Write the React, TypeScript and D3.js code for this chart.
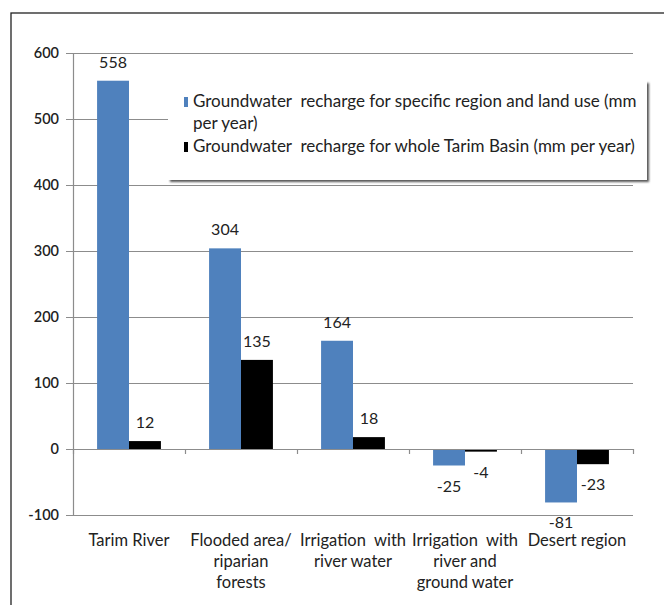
import React from "react";
import * as d3 from "d3";

const categories: string[][] = [
  ["Tarim River"],
  ["Flooded area/", "riparian", "forests"],
  ["Irrigation  with", "river water"],
  ["Irrigation  with", "river and", "ground water"],
  ["Desert region"],
];
const specificRecharge: number[] = [558, 304, 164, -25, -81];
const basinRecharge: number[] = [12, 135, 18, -4, -23];
const seriesNames: string[] = [
  "Groundwater  recharge for specific region and land use (mm",
  "per year)",
  "Groundwater  recharge for whole Tarim Basin (mm per year)",
];
const yTicks: number[] = [-100, 0, 100, 200, 300, 400, 500, 600];

const BLUE = "#4f81bd";
const BLACK = "#000000";
const GRID = "#8c8c8c";
const FONT = "Lato, 'Open Sans', 'Liberation Sans', sans-serif";

export default function App() {
  const W = 664;
  const H = 605;
  const left = 73;
  const right = 633;
  const y = d3.scaleLinear().domain([-100, 600]).range([515, 53]);
  const idx = categories.map((_, i) => String(i));
  const x = d3.scaleBand<string>().domain(idx).range([left, right]).padding(0);
  const bw = x.bandwidth();
  const inner = d3
    .scaleBand<string>()
    .domain(["a", "b"])
    .range([bw * 0.215, bw * 0.785])
    .padding(0);

  const series = [
    { key: "a", values: specificRecharge, color: BLUE },
    { key: "b", values: basinRecharge, color: BLACK },
  ];

  return (
    <svg
      width={W}
      height={H}
      style={{ position: "absolute", left: 0, top: 0, background: "#fff" }}
    >
      <defs>
        <filter id="shadow" x="-5%" y="-10%" width="110%" height="130%">
          <feGaussianBlur stdDeviation="1.2" />
        </filter>
      </defs>
      <rect x={0} y={0} width={W} height={H} fill="#fff" />
      <rect x={11} y={13} width={700} height={700} fill="none" stroke="#222" strokeWidth={1.3} />

      {/* gridlines */}
      {yTicks.map((t) => (
        <line
          key={t}
          x1={left - 7}
          x2={right}
          y1={Math.round(y(t)) + 0.5}
          y2={Math.round(y(t)) + 0.5}
          stroke={GRID}
          strokeWidth={1.2}
        />
      ))}
      {/* y axis line */}
      <line x1={left + 0.5} x2={left + 0.5} y1={y(600)} y2={y(-100)} stroke={GRID} strokeWidth={1.2} />
      {/* y tick labels */}
      {yTicks.map((t) => (
        <text
          key={"l" + t}
          x={59}
          y={y(t) + 5}
          textAnchor="end"
          fontFamily={FONT}
          fontSize={14.5}
          fontWeight={600}
          fill="#222"
        >
          {t}
        </text>
      ))}

      {/* category ticks at zero line */}
      {[...idx.map((i) => x(i)!), right].map((px, i) => (
        <line
          key={"ct" + i}
          x1={Math.round(px) + 0.5}
          x2={Math.round(px) + 0.5}
          y1={y(0)}
          y2={y(0) + 5}
          stroke={GRID}
          strokeWidth={1.2}
        />
      ))}

      {/* bars */}
      {series.map((s) =>
        s.values.map((v, i) => {
          const bx = x(String(i))! + inner(s.key)!;
          const y0 = y(0);
          const y1 = y(v);
          return (
            <rect
              key={s.key + i}
              x={bx}
              y={Math.min(y0, y1)}
              width={inner.bandwidth()}
              height={Math.abs(y1 - y0)}
              fill={s.color}
            />
          );
        })
      )}
      {/* zero line on top */}
      <line x1={left} x2={right} y1={Math.round(y(0)) + 0.5} y2={Math.round(y(0)) + 0.5} stroke={GRID} strokeWidth={1.2} />

      {/* data labels */}
      {series.map((s) =>
        s.values.map((v, i) => {
          const cx = x(String(i))! + inner(s.key)! + inner.bandwidth() / 2;
          const ly = v >= 0 ? y(v) - 13 : y(v) + 26;
          return (
            <text
              key={"d" + s.key + i}
              x={cx}
              y={ly}
              textAnchor="middle"
              fontFamily={FONT}
              fontSize={16}
              fill="#222"
            >
              {v < 0 ? "-" + Math.abs(v) : v}
            </text>
          );
        })
      )}

      {/* category labels */}
      {categories.map((lines, i) =>
        lines.map((ln, j) => (
          <text
            key={"c" + i + j}
            x={x(String(i))! + bw / 2}
            y={546 + j * 21}
            textAnchor="middle"
            fontFamily={FONT}
            fontSize={16.5}
            fill="#222"
            style={{ whiteSpace: "pre" }}
          >
            {ln}
          </text>
        ))
      )}

      {/* legend */}
      <rect x={170} y={83} width={479} height={99} fill="#555" filter="url(#shadow)" />
      <rect x={168} y={81} width={479} height={99} fill="#fff" />
      <rect x={184} y={97} width={4} height={10} fill={BLUE} />
      <rect x={184} y={142} width={4} height={10} fill={BLACK} />
      {seriesNames.map((t, i) => (
        <text
          key={"lg" + i}
          x={193}
          y={[107, 129, 152][i]}
          fontFamily={FONT}
          fontSize={17}
          fill="#222"
          style={{ whiteSpace: "pre" }}
        >
          {t}
        </text>
      ))}
    </svg>
  );
}
